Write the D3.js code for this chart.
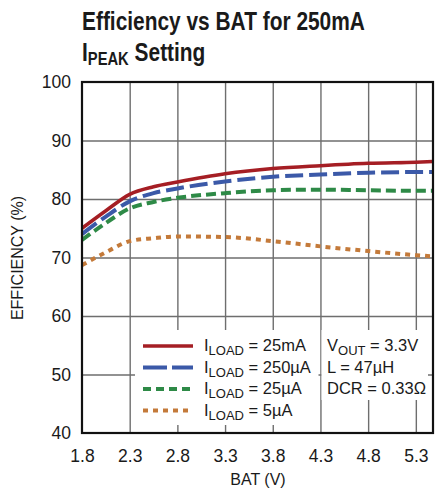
<!DOCTYPE html>
<html><head><meta charset="utf-8">
<script src="https://cdn.jsdelivr.net/npm/d3@7"></script>
<style>
html,body{margin:0;padding:0;background:#fff;}
svg text{font-family:"Liberation Sans",Arial,sans-serif;fill:#1a1a1a;}
</style></head>
<body>
<svg id="c" width="447" height="491"></svg>
<script>
const batV = [1.8, 2.05, 2.3, 2.55, 2.8, 3.3, 3.8, 4.3, 4.8, 5.3, 5.48];
const eff25mA  = [75.0, 78.0, 80.8, 82.1, 82.9, 84.3, 85.2, 85.7, 86.1, 86.3, 86.4];
const eff250uA = [74.0, 77.0, 79.6, 81.0, 81.8, 83.0, 83.8, 84.2, 84.5, 84.6, 84.6];
const eff25uA  = [73.0, 75.9, 78.4, 79.5, 80.2, 81.0, 81.5, 81.6, 81.5, 81.4, 81.4];
const eff5uA   = [68.7, 70.9, 72.8, 73.3, 73.6, 73.5, 72.8, 71.9, 71.1, 70.4, 70.2];
const xTicks = [1.8, 2.3, 2.8, 3.3, 3.8, 4.3, 4.8, 5.3];
const yTicks = [40, 50, 60, 70, 80, 90, 100];
const seriesNames = ["25mA", "250µA", "25µA", "5µA"];
const seriesVals = [eff25mA, eff250uA, eff25uA, eff5uA];
const seriesColors = ["#a51e24", "#3b59a8", "#2e8a47", "#c47a3a"];
const seriesDash = [null, "18,6", "10,5", "5,5"];
const notes = [["V","OUT"," = 3.3V"],["L = 47µH"],["DCR = 0.33Ω"]];

const svg = d3.select("#c");
const L = 82, R = 433, T = 82, B = 433;
const x = d3.scaleLinear().domain([1.8, 5.48]).range([L, R]);
const y = d3.scaleLinear().domain([40, 100]).range([B, T]);

// title (condensed bold look via horizontal scaling)
const titleFont = '"Liberation Sans",Arial,sans-serif';
svg.append("text").attr("transform", "translate(82,30) scale(0.82,1)")
  .style("font-family", titleFont)
  .style("font-weight", "bold").style("font-size", "25.5px").attr("fill", "#000")
  .text("Efficiency vs BAT for 250mA");
const t2 = svg.append("text").attr("transform", "translate(82,61) scale(0.82,1)")
  .style("font-family", titleFont)
  .style("font-weight", "bold").style("font-size", "25.5px").attr("fill", "#000");
t2.append("tspan").text("I");
t2.append("tspan").attr("dy", 4).style("font-size", "18px").text("PEAK");
t2.append("tspan").attr("dy", -4).text(" Setting");

// grid
const grid = svg.append("g");
grid.append("g").attr("transform", `translate(0,${B})`)
  .call(d3.axisBottom(x).tickValues(xTicks.slice(1)).tickSize(-(B - T)).tickFormat(""))
  .call(g => g.select(".domain").remove())
  .call(g => g.selectAll("line").attr("stroke", "#6e6e6e").attr("stroke-width", 1.4));
grid.append("g").attr("transform", `translate(${L},0)`)
  .call(d3.axisLeft(y).tickValues(yTicks.slice(1, -1)).tickSize(-(R - L)).tickFormat(""))
  .call(g => g.select(".domain").remove())
  .call(g => g.selectAll("line").attr("stroke", "#6e6e6e").attr("stroke-width", 1.4));

// legend boxes
svg.append("rect").attr("x", 135).attr("y", 330).attr("width", 183.5).attr("height", 95).attr("fill", "#fff");
svg.append("rect").attr("x", 321.5).attr("y", 330).attr("width", 106.5).attr("height", 70).attr("fill", "#fff");

// lines
const line = d3.line().x((d, i) => x(batV[i])).y(d => y(d)).curve(d3.curveMonotoneX);
seriesVals.forEach((vals, k) => {
  svg.append("path").datum(vals).attr("d", line)
    .attr("fill", "none").attr("stroke", seriesColors[k])
    .attr("stroke-width", k === 0 ? 3.5 : 4)
    .attr("stroke-dasharray", seriesDash[k]);
});

// frame
svg.append("rect").attr("x", L).attr("y", T).attr("width", R - L).attr("height", B - T)
  .attr("fill", "none").attr("stroke", "#111").attr("stroke-width", 2.2);

// tick labels
svg.append("g").attr("transform", `translate(0,${B})`)
  .call(d3.axisBottom(x).tickValues(xTicks).tickSize(0).tickPadding(17).tickFormat(d3.format(".1f")))
  .call(g => g.select(".domain").remove())
  .call(g => g.selectAll("text").style("font-size", "17.5px").attr("fill", "#1a1a1a").style("font-family", '"Liberation Sans",Arial,sans-serif'));
svg.append("g").attr("transform", `translate(${L},0)`)
  .call(d3.axisLeft(y).tickValues(yTicks).tickSize(0).tickPadding(11).tickFormat(d3.format("d")))
  .call(g => g.select(".domain").remove())
  .call(g => g.selectAll("text").style("font-size", "17.5px").attr("fill", "#1a1a1a").style("font-family", '"Liberation Sans",Arial,sans-serif'));

// axis titles
svg.append("text").attr("x", 258).attr("y", 485).attr("text-anchor", "middle")
  .style("font-size", "16px").text("BAT (V)");
svg.append("text").attr("transform", "translate(23,258) rotate(-90)").attr("text-anchor", "middle")
  .style("font-size", "16px").text("EFFICIENCY (%)");

// legend
const rowY = [346, 367.5, 389, 410.5];
seriesNames.forEach((nm, k) => {
  svg.append("line").attr("x1", 143).attr("x2", 193).attr("y1", rowY[k]).attr("y2", rowY[k])
    .attr("stroke", seriesColors[k]).attr("stroke-width", k === 0 ? 3.5 : 4)
    .attr("stroke-dasharray", k === 1 ? "24,5" : k === 2 ? "8,5" : seriesDash[k]);
  const tx = svg.append("text").attr("x", 204).attr("y", rowY[k] + 5).style("font-size", "16.5px");
  tx.append("tspan").text("I");
  tx.append("tspan").attr("dy", 4).style("font-size", "13px").text("LOAD");
  tx.append("tspan").attr("dy", -4).text(" = " + nm);
});
notes.forEach((n, k) => {
  const tx = svg.append("text").attr("x", 327).attr("y", rowY[k] + 5).style("font-size", "16.5px");
  if (n.length === 3) {
    tx.append("tspan").text(n[0]);
    tx.append("tspan").attr("dy", 4).style("font-size", "13px").text(n[1]);
    tx.append("tspan").attr("dy", -4).text(n[2]);
  } else {
    tx.text(n[0]);
  }
});
</script>
</body></html>
